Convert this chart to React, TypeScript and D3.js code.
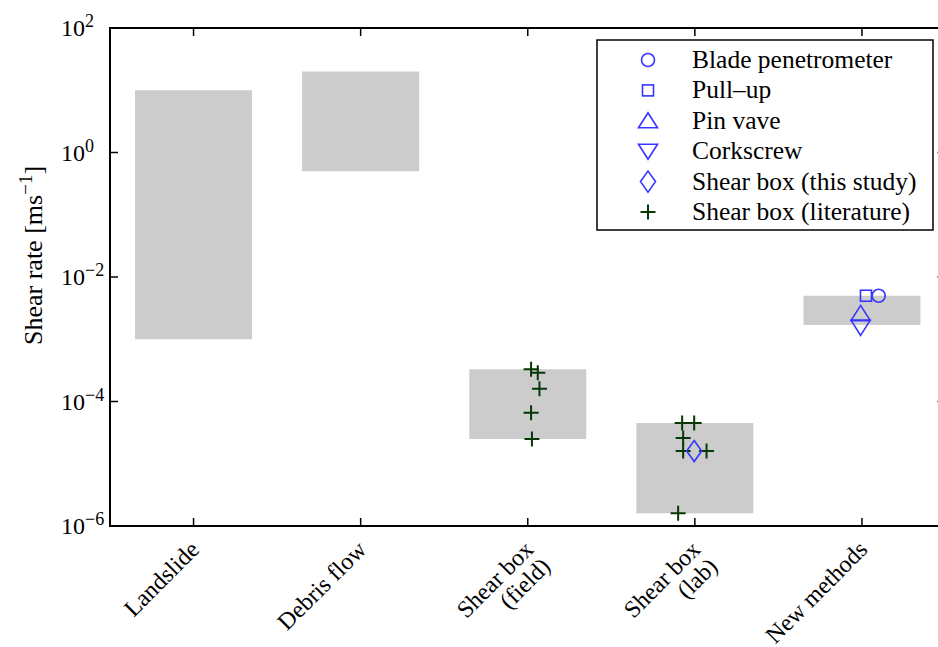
import React from "react";
import * as d3 from "d3";

// ---- data ----
const categories: string[][] = [
  ["Landslide"],
  ["Debris flow"],
  ["Shear box", "(field)"],
  ["Shear box", "(lab)"],
  ["New methods"],
];
const rangeLow = [1e-3, 0.5, 2.5e-5, 1.6e-6, 1.7e-3];
const rangeHigh = [10, 20, 3.3e-4, 4.5e-5, 5e-3];

const litX = [3.02, 3.06, 3.07, 3.02, 3.025, 3.924, 3.996, 3.93, 3.93, 4.07, 3.9];
const litY = [3.3e-4, 2.9e-4, 1.6e-4, 6.6e-5, 2.5e-5, 4.5e-5, 4.5e-5, 2.6e-5, 1.6e-5, 1.6e-5, 1.6e-6];

const bladeX = [5.1];
const bladeY = [5e-3];
const pullX = [5.024];
const pullY = [5e-3];
const pinX = [4.992];
const pinY = [2.6e-3];
const corkX = [4.992];
const corkY = [1.55e-3];
const shearStudyX = [3.996];
const shearStudyY = [1.6e-5];

const yTickExps = [2, 0, -2, -4, -6];
const legendLabels = [
  "Blade penetrometer",
  "Pull\u2013up",
  "Pin vave",
  "Corkscrew",
  "Shear box (this study)",
  "Shear box (literature)",
];
const legendMarkers = ["circle", "square", "up", "down", "diamond", "plus"];

// ---- layout ----
const W = 938;
const H = 647;
const left = 110;
const right = 945.5;
const top = 28;
const bottom = 526;

const BLUE = "#3535ff";
const GREEN = "#053805";
const FONT = "'Liberation Serif', 'Times New Roman', serif";

function Marker({ type, x, y }: { type: string; x: number; y: number }) {
  const sw = 1.6;
  if (type === "circle")
    return <circle cx={x} cy={y} r={6.5} fill="none" stroke={BLUE} strokeWidth={sw} />;
  if (type === "square")
    return <rect x={x - 5.5} y={y - 5.5} width={11} height={11} fill="none" stroke={BLUE} strokeWidth={sw} />;
  if (type === "up")
    return (
      <path d={`M${x},${y - 8} L${x + 9.5},${y + 7} L${x - 9.5},${y + 7} Z`} fill="none" stroke={BLUE} strokeWidth={sw} />
    );
  if (type === "down")
    return (
      <path d={`M${x},${y + 8} L${x + 9.5},${y - 7} L${x - 9.5},${y - 7} Z`} fill="none" stroke={BLUE} strokeWidth={sw} />
    );
  if (type === "diamond")
    return (
      <path d={`M${x},${y - 10.5} L${x + 7.5},${y} L${x},${y + 10.5} L${x - 7.5},${y} Z`} fill="none" stroke={BLUE} strokeWidth={sw} />
    );
  return (
    <path d={`M${x - 7.5},${y} L${x + 7.5},${y} M${x},${y - 7.5} L${x},${y + 7.5}`} stroke={GREEN} strokeWidth={2} fill="none" />
  );
}

export default function App() {
  const x = d3.scaleLinear().domain([0.5, 5.5]).range([left, right]);
  const y = d3.scaleLog().domain([1e-6, 1e2]).range([bottom, top]);
  const band = (x(1.35) - x(1)) * 2;

  const legX = 597;
  const legY = 40;
  const legW = 336;
  const legH = 190;

  return (
    <svg
      width={W}
      height={H}
      style={{ position: "absolute", left: 0, top: 0, background: "#fff" }}
      fontFamily={FONT}
    >
      <rect x={0} y={0} width={W} height={H} fill="#fff" />
      {/* range bars */}
      {categories.map((_, i) => (
        <rect
          key={"b" + i}
          x={x(i + 1) - band / 2}
          y={y(rangeHigh[i])}
          width={band}
          height={y(rangeLow[i]) - y(rangeHigh[i])}
          fill="#cccccc"
        />
      ))}
      {/* literature crosses */}
      {litX.map((v, i) => (
        <Marker key={"l" + i} type="plus" x={x(v)} y={y(litY[i])} />
      ))}
      {shearStudyX.map((v, i) => (
        <Marker key={"s" + i} type="diamond" x={x(v)} y={y(shearStudyY[i])} />
      ))}
      {pinX.map((v, i) => (
        <Marker key={"p" + i} type="up" x={x(v)} y={y(pinY[i])} />
      ))}
      {corkX.map((v, i) => (
        <Marker key={"c" + i} type="down" x={x(v)} y={y(corkY[i])} />
      ))}
      {pullX.map((v, i) => (
        <Marker key={"q" + i} type="square" x={x(v)} y={y(pullY[i])} />
      ))}
      {bladeX.map((v, i) => (
        <Marker key={"bl" + i} type="circle" x={x(v)} y={y(bladeY[i])} />
      ))}

      {/* axes frame */}
      <rect x={left} y={top} width={right - left} height={bottom - top} fill="none" stroke="#000" strokeWidth={2} />
      {/* y ticks */}
      {yTickExps.map((e) => {
        const yy = y(Math.pow(10, e));
        return (
          <g key={"yt" + e}>
            <line x1={left} x2={left + 8} y1={yy} y2={yy} stroke="#000" strokeWidth={1.5} />
            <line x1={right} x2={right - 8} y1={yy} y2={yy} stroke="#000" strokeWidth={1.5} />
            <text x={61} y={yy + 8} fontSize={24} fill="#000">
              10
              <tspan dy={-9} fontSize={18}>
                {e < 0 ? "\u2212" + Math.abs(e) : String(e)}
              </tspan>
            </text>
          </g>
        );
      })}
      {/* x ticks */}
      {categories.map((_, i) => (
        <g key={"xt" + i}>
          <line x1={x(i + 1)} x2={x(i + 1)} y1={bottom} y2={bottom - 8} stroke="#000" strokeWidth={1.5} />
          <line x1={x(i + 1)} x2={x(i + 1)} y1={top} y2={top + 8} stroke="#000" strokeWidth={1.5} />
        </g>
      ))}
      {/* x labels */}
      {categories.map((lines, i) => (
        <g key={"xl" + i} transform={`translate(${x(i + 1) + 7},${551}) rotate(-45)`}>
          {lines.map((t, j) => (
            <text key={j} x={0} y={j * 24} textAnchor="end" fontSize={24} fill="#000">
              {t}
            </text>
          ))}
        </g>
      ))}
      {/* y label */}
      <text transform={`translate(42,345) rotate(-90)`} fontSize={26} fill="#000">
        Shear rate [ms
        <tspan dy={-10} fontSize={19}>
          {"\u22121"}
        </tspan>
        <tspan dy={10}>]</tspan>
      </text>

      {/* legend */}
      <rect x={legX} y={legY} width={legW} height={legH} fill="#fff" stroke="#000" strokeWidth={1.5} />
      {legendLabels.map((t, i) => {
        const yy = 60 + i * 30.4;
        return (
          <g key={"lg" + i}>
            <Marker type={legendMarkers[i]} x={648} y={yy} />
            <text x={692} y={yy + 8} fontSize={25.5} fill="#000">
              {t}
            </text>
          </g>
        );
      })}
    </svg>
  );
}
